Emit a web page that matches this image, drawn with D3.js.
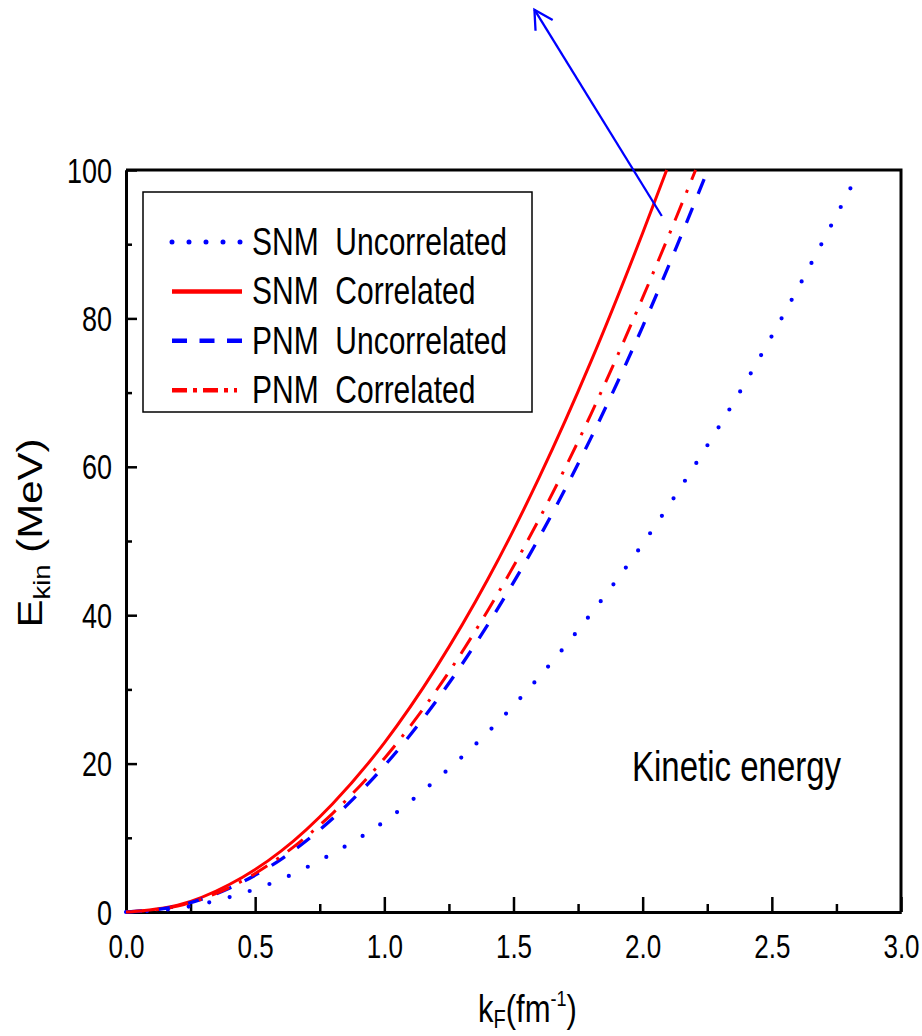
<!DOCTYPE html>
<html>
<head>
<meta charset="utf-8">
<script src="https://cdn.jsdelivr.net/npm/d3@7"></script>
<style>
body { margin: 0; background: #fff; }
svg { display: block; font-family: Arial, "Liberation Sans", Helvetica, sans-serif; }
</style>
</head>
<body>
<svg id="drawing_region"></svg>
<script>
// k_F (fm^-1) / E_kin (MeV)
const snmUncorrK = [0, 0.2, 0.4, 0.6, 0.8, 1.0, 1.2, 1.4, 1.6, 1.8, 2.0, 2.2, 2.4, 2.6, 2.82];
const snmUncorrE = [0, 0.5, 2.0, 4.4, 7.9, 12.2, 17.8, 24.2, 31.7, 40.2, 49.6, 60.1, 71.5, 84.0, 98.6];

const snmCorrK = [0, 0.2, 0.4, 0.6, 0.8, 1.0, 1.2, 1.4, 1.6, 1.8, 2.0, 2.093];
const snmCorrE = [0, 0.9, 3.7, 8.2, 14.6, 22.8, 32.9, 44.8, 58.6, 74.2, 91.5, 100];

const pnmUncorrK = [0, 0.2, 0.4, 0.6, 0.8, 1.0, 1.2, 1.4, 1.6, 1.8, 2.0, 2.2, 2.252];
const pnmUncorrE = [0, 0.8, 3.2, 7.1, 12.6, 19.7, 28.4, 38.7, 50.5, 63.9, 78.9, 95.5, 100];

const pnmCorrK = [0, 0.2, 0.4, 0.6, 0.8, 1.0, 1.2, 1.4, 1.6, 1.8, 2.0, 2.205];
const pnmCorrE = [0, 0.8, 3.3, 7.5, 13.3, 20.7, 29.8, 40.6, 53.0, 67.1, 82.8, 100];

const legendLabels = ["SNM\u00a0 Uncorrelated", "SNM\u00a0 Correlated", "PNM\u00a0 Uncorrelated", "PNM\u00a0 Correlated"];

const xMajor = [0, 0.5, 1.0, 1.5, 2.0, 2.5, 3.0];
const xMinor = [0.25, 0.75, 1.25, 1.75, 2.25, 2.75];
const yMajor = [0, 20, 40, 60, 80, 100];
const yMinor = [10, 30, 50, 70, 90];

// arrow annotation in data units: [tail, head]
const arrowK = [2.074, 1.581];
const arrowE = [93.8, 121.6];

const W = 922, H = 1036;
const margin = { top: 170, right: 21, bottom: 124, left: 126 };

const svg = d3.select('#drawing_region')
    .attr('width', W)
    .attr('height', H);

const xscale = d3.scaleLinear().domain([0, 3]).range([margin.left, W - margin.right]);
const yscale = d3.scaleLinear().domain([0, 100]).range([H - margin.bottom, margin.top]);

const series = [
    { k: snmUncorrK, e: snmUncorrE, color: '#0000ff', dash: '0,21', cap: 'round', width: 4.2, legDash: '0,17' },
    { k: snmCorrK, e: snmCorrE, color: '#ff0000', dash: null, cap: 'butt', width: 3, legDash: null },
    { k: pnmUncorrK, e: pnmUncorrE, color: '#0000ff', dash: '16,15', cap: 'butt', width: 3.3, legDash: '15,12.5' },
    { k: pnmCorrK, e: pnmCorrE, color: '#ff0000', dash: '19,11,3,11', cap: 'butt', width: 3, legDash: '15,6,4,6' }
];

// axes
const x0 = yscale(0);
const xaxisMinor = d3.axisBottom(xscale).tickValues(xMinor).tickSize(-8).tickFormat('').tickSizeOuter(0);
const xaxisMajor = d3.axisBottom(xscale).tickValues(xMajor).tickSize(-15).tickSizeOuter(0)
    .tickFormat(d3.format('.1f'));
const yaxisMinor = d3.axisLeft(yscale).tickValues(yMinor).tickSize(-6).tickFormat('').tickSizeOuter(0);
const yaxisMajor = d3.axisLeft(yscale).tickValues(yMajor).tickSize(-11).tickSizeOuter(0)
    .tickFormat(d3.format('d'));

svg.append('g').attr('transform', `translate(0, ${x0})`).call(xaxisMinor);
const gx = svg.append('g').attr('transform', `translate(0, ${x0})`).call(xaxisMajor);
svg.append('g').attr('transform', `translate(${margin.left}, 0)`).call(yaxisMinor);
const gy = svg.append('g').attr('transform', `translate(${margin.left}, 0)`).call(yaxisMajor);

svg.selectAll('.domain').attr('stroke', '#000').attr('stroke-width', 3);
svg.selectAll('.tick line').attr('stroke', '#000').attr('stroke-width', 2.5);

gx.selectAll('.tick text')
    .attr('x', 0).attr('y', 0).attr('dy', null)
    .attr('transform', 'translate(0, 46) scale(1, 1.25)')
    .attr('font-size', 26)
    .attr('font-family', null)
    .attr('fill', '#000');

gy.selectAll('.tick text')
    .attr('x', 0).attr('y', 0).attr('dy', null)
    .attr('transform', 'translate(-14, 12) scale(1, 1.27)')
    .attr('font-size', 27)
    .attr('font-family', null)
    .attr('fill', '#000');

// frame: top and right
svg.append('path')
    .attr('d', `M${xscale(0)},${yscale(100)}H${xscale(3)}V${yscale(0)}`)
    .attr('fill', 'none')
    .attr('stroke', '#000')
    .attr('stroke-width', 3);

// curves
const line = d3.line()
    .x(d => xscale(d[0]))
    .y(d => yscale(d[1]))
    .curve(d3.curveMonotoneX);

series.forEach(s => {
    const pts = s.k.map((k, i) => [k, s.e[i]]);
    svg.append('path')
        .datum(pts)
        .attr('d', line)
        .attr('fill', 'none')
        .attr('stroke', s.color)
        .attr('stroke-width', s.width)
        .attr('stroke-linecap', s.cap)
        .attr('stroke-dasharray', s.dash);
});

// legend
const legend = svg.append('g').attr('transform', 'translate(143, 192)');
legend.append('rect')
    .attr('width', 389).attr('height', 220)
    .attr('fill', '#fff')
    .attr('stroke', '#000')
    .attr('stroke-width', 1.5);

series.forEach((s, i) => {
    const cy = 50 + i * 49.4;
    legend.append('line')
        .attr('x1', 29).attr('x2', i === 3 ? 94 : 99)
        .attr('y1', cy).attr('y2', cy)
        .attr('stroke', s.color)
        .attr('stroke-width', i === 0 ? 5 : 4.5)
        .attr('stroke-linecap', s.cap)
        .attr('stroke-dasharray', s.legDash);
    legend.append('text')
        .attr('transform', `translate(109, ${cy + 13}) scale(1, 1.3)`)
        .attr('font-size', 30)
        .text(legendLabels[i]);
});

// annotation text
svg.append('text')
    .attr('transform', 'translate(632, 781) scale(1, 1.3)')
    .attr('font-size', 33)
    .text('Kinetic energy');

// axis titles
const ylab = svg.append('text')
    .attr('transform', 'translate(42, 533) rotate(-90) scale(1.2, 1)')
    .attr('text-anchor', 'middle')
    .attr('font-size', 35);
ylab.append('tspan').text('E');
ylab.append('tspan').attr('font-size', 23).attr('dy', 8).text('kin');
ylab.append('tspan').attr('dy', -8).text('\u00a0(MeV)');

const xlab = svg.append('text')
    .attr('transform', 'translate(478, 1022) scale(1, 1.25)')
    .attr('font-size', 31);
xlab.append('tspan').text('k');
xlab.append('tspan').attr('font-size', 20).attr('dy', 5).text('F');
xlab.append('tspan').attr('dy', -5).text('(fm');
xlab.append('tspan').attr('font-size', 18).attr('dy', -13).text('-1');
xlab.append('tspan').attr('dy', 13).text(')');

// blue arrow
const ax1 = xscale(arrowK[0]), ay1 = yscale(arrowE[0]);
const ax2 = xscale(arrowK[1]), ay2 = yscale(arrowE[1]);
const ang = Math.atan2(ay2 - ay1, ax2 - ax1);
const head = 21, spread = 0.5;
svg.append('line')
    .attr('x1', ax1).attr('y1', ay1)
    .attr('x2', ax2).attr('y2', ay2)
    .attr('stroke', '#0000ff')
    .attr('stroke-width', 2.3);
svg.append('path')
    .attr('d', `M${ax2 - head * Math.cos(ang - spread)},${ay2 - head * Math.sin(ang - spread)}` +
        `L${ax2},${ay2}` +
        `L${ax2 - head * Math.cos(ang + spread)},${ay2 - head * Math.sin(ang + spread)}`)
    .attr('fill', 'none')
    .attr('stroke', '#0000ff')
    .attr('stroke-width', 2.3);
</script>
</body>
</html>
